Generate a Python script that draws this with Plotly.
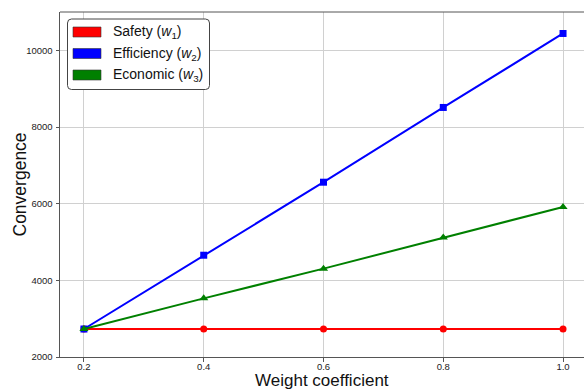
import plotly.graph_objects as go

# Weight coefficient values on the x axis
weights = [0.2, 0.4, 0.6, 0.8, 1.0]

# Convergence for each weighting scheme
safety = [2730, 2730, 2730, 2730, 2730]
efficiency = [2730, 4655, 6560, 8510, 10440]
economic = [2730, 3530, 4305, 5120, 5915]

x_ticks = [0.2, 0.4, 0.6, 0.8, 1.0]
x_tick_text = ["0.2", "0.4", "0.6", "0.8", "1.0"]
y_ticks = [2000, 4000, 6000, 8000, 10000]
y_tick_text = ["2000", "4000", "6000", "8000", "10000"]

x_title = "Weight coefficient"
y_title = "Convergence"

legend_labels = [
    "Safety (<i>w</i><sub>1</sub>)",
    "Efficiency (<i>w</i><sub>2</sub>)",
    "Economic (<i>w</i><sub>3</sub>)",
]
colors = ["#ff0000", "#0000ff", "#008000"]
symbols = ["circle", "square", "triangle-up"]

W, H = 584, 390
ML, MR, MT, MB = 60, 0, 12, 33
FONT = "Arial, 'Liberation Sans', sans-serif"

fig = go.Figure()
for vals, col, sym in zip([safety, efficiency, economic], colors, symbols):
    fig.add_trace(go.Scatter(
        x=weights, y=vals, mode="lines+markers",
        line=dict(color=col, width=2),
        marker=dict(color=col, symbol=sym, size=7 if sym != "triangle-up" else 8),
        showlegend=False,
    ))

axis_common = dict(
    showline=True, linecolor="#555555", linewidth=1, mirror=False,
    ticks="outside", ticklen=3.5, tickcolor="#555555", tickwidth=1,
    showgrid=True, gridcolor="#d0d0d0", gridwidth=1, zeroline=False,
    tickfont=dict(family=FONT, size=9.5, color="#222222"),
)

fig.update_layout(
    width=W, height=H,
    margin=dict(l=ML, r=MR, t=MT, b=MB),
    paper_bgcolor="white", plot_bgcolor="white",
    font=dict(family=FONT),
    xaxis=dict(range=[0.16, 1.035], tickvals=x_ticks, ticktext=x_tick_text,
               ticklabelstandoff=-3, **axis_common),
    yaxis=dict(range=[2000, 11000], tickvals=y_ticks, ticktext=y_tick_text,
               ticklabelstandoff=1, **axis_common),
)

# Top spine
fig.add_shape(type="line", xref="paper", yref="paper", x0=0, x1=1, y0=1, y1=1,
              line=dict(color="#555555", width=1))

pw, ph = W - ML - MR, H - MT - MB


def px(x):
    return (x - ML) / pw


def py(y):
    return (H - MB - y) / ph


# Axis titles
fig.add_annotation(xref="paper", yref="paper", x=px(322), y=py(370),
                   xanchor="center", yanchor="top", showarrow=False, text=x_title,
                   borderpad=0, font=dict(family=FONT, size=17, color="#111111"))
fig.add_annotation(xref="paper", yref="paper", x=px(7), y=py(184.5),
                   xanchor="left", yanchor="middle", showarrow=False, text=y_title,
                   textangle=-90, font=dict(family=FONT, size=17.5, color="#111111"))

# Hand-built legend with patch swatches
bx0, bx1, by0, by1, r = 67.5, 209.5, 19, 89.5, 4
path = (
    f"M {px(bx0 + r)},{py(by0)} L {px(bx1 - r)},{py(by0)} "
    f"Q {px(bx1)},{py(by0)} {px(bx1)},{py(by0 + r)} "
    f"L {px(bx1)},{py(by1 - r)} Q {px(bx1)},{py(by1)} {px(bx1 - r)},{py(by1)} "
    f"L {px(bx0 + r)},{py(by1)} Q {px(bx0)},{py(by1)} {px(bx0)},{py(by1 - r)} "
    f"L {px(bx0)},{py(by0 + r)} Q {px(bx0)},{py(by0)} {px(bx0 + r)},{py(by0)} Z"
)
fig.add_shape(type="path", xref="paper", yref="paper", path=path,
              fillcolor="white", line=dict(color="#444444", width=1), layer="above")

row_y = [32, 53.5, 75]
for lab, col, yc in zip(legend_labels, colors, row_y):
    fig.add_shape(type="rect", xref="paper", yref="paper",
                  x0=px(73), x1=px(101), y0=py(yc - 5), y1=py(yc + 5),
                  fillcolor=col, line=dict(color="#333333", width=0.6), layer="above")
    fig.add_annotation(xref="paper", yref="paper", x=px(111), y=py(yc),
                       xanchor="left", yanchor="middle", showarrow=False,
                       text=lab, font=dict(family=FONT, size=14, color="#111111"))

fig.write_html("out.html")
